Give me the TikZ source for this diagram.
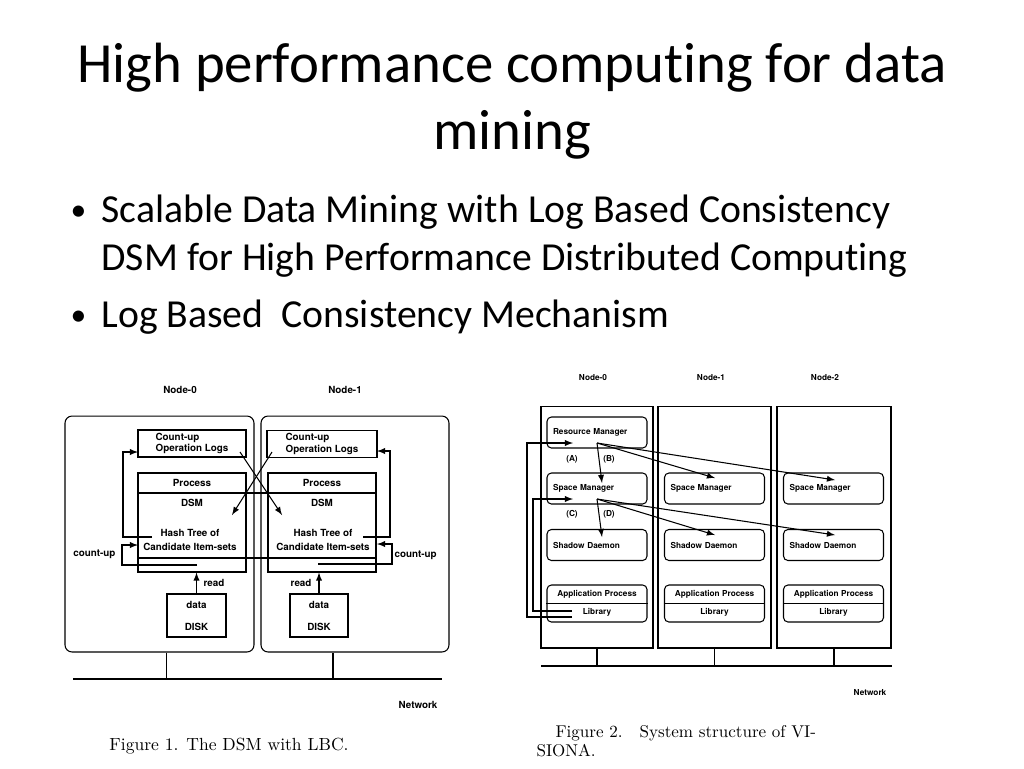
\documentclass[tikz,border=0pt]{standalone}
\usepackage{fontspec}
\newfontfamily\slidefont[Ligatures=NoCommon]{Carlito}
\newfontfamily\figfont{TeX Gyre Heros}
\usetikzlibrary{shapes,arrows,positioning}
\tikzstyle{title} = [font=\slidefont\fontsize{32.3}{38}\selectfont, anchor=base, inner sep=0pt]
\tikzstyle{bullet} = [font=\slidefont\fontsize{22.6}{26}\selectfont, anchor=base west, inner sep=0pt]
\tikzstyle{caption} = [font=\fontsize{9.7}{11.4}\selectfont, inner sep=0pt]
\tikzstyle{lbl} = [font=\figfont\bfseries\fontsize{5.6}{6.7}\selectfont, inner sep=0pt]
\tikzstyle{slbl} = [font=\figfont\bfseries\fontsize{4.7}{5.6}\selectfont, inner sep=0pt]
\tikzstyle{host} = [rectangle, draw, rounded corners=4pt, inner sep=0pt]
\tikzstyle{block} = [rectangle, draw, inner sep=0pt]
\tikzstyle{unit} = [slbl, rectangle, draw, rounded corners=2.5pt, inner xsep=0.12cm, inner ysep=0pt, text width=1.76cm, align=left, minimum height=0.62cm]
\tikzstyle{line} = [draw, -latex]

\begin{document}
\begin{tikzpicture}[x=0.02cm, y=-0.02cm, line width=0.6pt]
        \useasboundingbox (0,0) rectangle (1024,768);

        \node[title]                        (title1) at (512,82)  {High performance computing for data};
        \node[title]                        (title2) at (512,149) {mining};
        \node[bullet, font=\slidefont\fontsize{18}{20}\selectfont] (dot1) at (70,220) {\textbullet};
        \node[bullet]                       (item1)  at (101,222) {Scalable Data Mining with Log Based Consistency};
        \node[bullet]                       (item1b) at (101,270) {DSM for High Performance Distributed Computing};
        \node[bullet, font=\slidefont\fontsize{18}{20}\selectfont] (dot2) at (70,325) {\textbullet};
        \node[bullet]                       (item2)  at (101,327) {Log Based\ \ Consistency Mechanism};

        % Figure 1
        \node[lbl]                          (lab0)   at (180,390) {Node-0};
        \node[lbl]                          (lab1)   at (345,390) {Node-1};
        \node[host, minimum width=3.78cm, minimum height=4.72cm] (n0) at (159.5,534) {};
        \node[host, minimum width=3.76cm, minimum height=4.72cm] (n1) at (355,534) {};
        \node[block, lbl, align=left, minimum width=2.16cm, minimum height=0.54cm] (logs0) at (192,443.5) {Count-up\\Operation Logs};
        \node[block, lbl, align=left, minimum width=2.2cm, minimum height=0.54cm]  (logs1) at (322,444) {Count-up\\Operation Logs};
        \node[block, minimum width=2.16cm, minimum height=1.98cm] (proc0) at (192,522.5) {};
        \node[block, minimum width=2.16cm, minimum height=1.98cm] (proc1) at (322,522.5) {};
        \node[block, minimum width=4.76cm, minimum height=1.30cm] (dsm)   at (257,525.5) {};
        \node[lbl]                          (pr0)    at (192,483) {Process};
        \node[lbl]                          (pr1)    at (322,483) {Process};
        \node[lbl]                          (ds0)    at (192,503) {DSM};
        \node[lbl]                          (ds1)    at (322,503) {DSM};
        \node[lbl, align=center]            (ht0)    at (190,540) {Hash Tree of\\[1.2pt]Candidate Item-sets};
        \node[lbl, align=center]            (ht1)    at (323,540) {Hash Tree of\\[1.2pt]Candidate Item-sets};
        \node[block, lbl, align=center, minimum width=1.18cm, minimum height=0.86cm] (disk0) at (196.5,615.5) {data\\[5.8pt]DISK};
        \node[block, lbl, align=center, minimum width=1.16cm, minimum height=0.86cm] (disk1) at (319,615.5) {data\\[5.8pt]DISK};
        \node[lbl, anchor=west]             (rd0)    at (203,583) {read};
        \node[lbl, anchor=east]             (rd1)    at (312,583) {read};
        \node[lbl, anchor=east]             (cul0)   at (116,554) {count-up};
        \node[lbl, anchor=west]             (cul1)   at (394,555) {count-up};
        \node[lbl]                          (netl1)  at (418,705) {Network};
        \node[caption, font=\fontsize{10}{12}\selectfont] (cap1) at (229,746) {Figure 1. The DSM with LBC.};

        \coordinate (x0a) at (240,452);
        \coordinate (x0b) at (282,515);
        \coordinate (x1a) at (272,452);
        \coordinate (x1b) at (232,515);
        \coordinate (fb0) at (152,537);
        \coordinate (in0) at (138,452);
        \coordinate (cu0) at (197,565);
        \coordinate (ci0) at (138,545);
        \coordinate (fb1) at (363,537);
        \coordinate (in1) at (377,451);
        \coordinate (cu1) at (318,564);
        \coordinate (ci1) at (377,544);
        \coordinate (net1w) at (73,679);
        \coordinate (net1e) at (442,679);
        \coordinate (tap1) at (333,679);

        \path[line] (x0a) -- (x0b);
        \path[line] (x1a) -- (x1b);
        \path[line] (fb0) -- ++(-29,0) |- (in0);
        \path[line] (cu0) -- ++(-75,0) |- (ci0);
        \path[line] (fb1) -- ++(27,0) |- (in1);
        \path[line] (cu1) -- ++(74,0) |- (ci1);
        \path[line] (disk0) -- (disk0 |- proc0.south);
        \path[line] (disk1) -- (disk1 |- proc1.south);
        \draw (net1w) -- (net1e);
        \draw (n0.south -| disk0.west) -- (net1w -| disk0.west);
        \draw (tap1) -- (tap1 |- n1.south);

        % Figure 2
        \node[slbl]                         (labA)   at (593,378) {Node-0};
        \node[slbl]                         (labB)   at (711,378) {Node-1};
        \node[slbl]                         (labC)   at (825,378) {Node-2};
        \node[block, minimum width=2.24cm, minimum height=4.84cm] (m0) at (597,527) {};
        \node[block, minimum width=2.26cm, minimum height=4.84cm] (m1) at (714.5,527) {};
        \node[block, minimum width=2.28cm, minimum height=4.84cm] (m2) at (834,527) {};
        \node[unit]                         (rm0)    at (597,432.5) {Resource Manager};
        \node[unit]                         (sm0)    at (597,488.5) {Space Manager};
        \node[unit]                         (sm1)    at (714.5,488.5) {Space Manager};
        \node[unit]                         (sm2)    at (833.5,488.5) {Space Manager};
        \node[unit]                         (sd0)    at (597,545) {Shadow Daemon};
        \node[unit]                         (sd1)    at (714.5,545) {Shadow Daemon};
        \node[unit]                         (sd2)    at (833.5,545) {Shadow Daemon};
        \node[unit, minimum height=0.74cm]  (ap0)    at (597,603.5) {};
        \node[unit, minimum height=0.74cm]  (ap1)    at (714.5,603.5) {};
        \node[unit, minimum height=0.74cm]  (ap2)    at (833.5,603.5) {};
        \node[slbl]                         (apt0)   at (597,594) {Application Process};
        \node[slbl]                         (apt1)   at (714.5,594) {Application Process};
        \node[slbl]                         (apt2)   at (833.5,594) {Application Process};
        \node[slbl]                         (lib0)   at (597,612.5) {Library};
        \node[slbl]                         (lib1)   at (714.5,612.5) {Library};
        \node[slbl]                         (lib2)   at (833.5,612.5) {Library};
        \node[slbl]                         (tagA)   at (572,459) {(A)};
        \node[slbl]                         (tagB)   at (609,459) {(B)};
        \node[slbl]                         (tagC)   at (572,514) {(C)};
        \node[slbl]                         (tagD)   at (609,514) {(D)};
        \node[slbl]                         (netl2)  at (870,693) {Network};
        \node[caption, anchor=base west]    (cap2a)  at (555,737) {Figure 2.\ \ \ System structure of VI-};
        \node[caption, anchor=base west]    (cap2b)  at (536,756) {SIONA.};

        \coordinate (rmo) at (597,443);
        \coordinate (smo) at (597,499);
        \coordinate (ra0) at (573,443);
        \coordinate (sa0) at (573,499);
        \coordinate (la0) at (572,617);
        \coordinate (lc0) at (572,611);
        \coordinate (smi0) at (602,483);
        \coordinate (smi1) at (715,478);
        \coordinate (smi2) at (835,480);
        \coordinate (sdi0) at (602,537);
        \coordinate (sdi1) at (715,535);
        \coordinate (sdi2) at (835,535);
        \coordinate (net2w) at (541,666);
        \coordinate (net2e) at (892,666);

        \draw (ap0.west) -- (ap0.east);
        \draw (ap1.west) -- (ap1.east);
        \draw (ap2.west) -- (ap2.east);
        \path[line] (la0) -- ++(-45,0) |- (ra0);
        \path[line] (lc0) -- ++(-39,0) |- (sa0);
        \path[line] (rmo) -- (smi0);
        \path[line] (rmo) -- (smi1);
        \path[line] (rmo) -- (smi2);
        \path[line] (smo) -- (sdi0);
        \path[line] (smo) -- (sdi1);
        \path[line] (smo) -- (sdi2);
        \draw (net2w) -- (net2e);
        \draw (m0.south) -- (m0.south |- net2w);
        \draw (m1.south) -- (m1.south |- net2w);
        \draw (m2.south) -- (m2.south |- net2w);
\end{tikzpicture}
\end{document}
